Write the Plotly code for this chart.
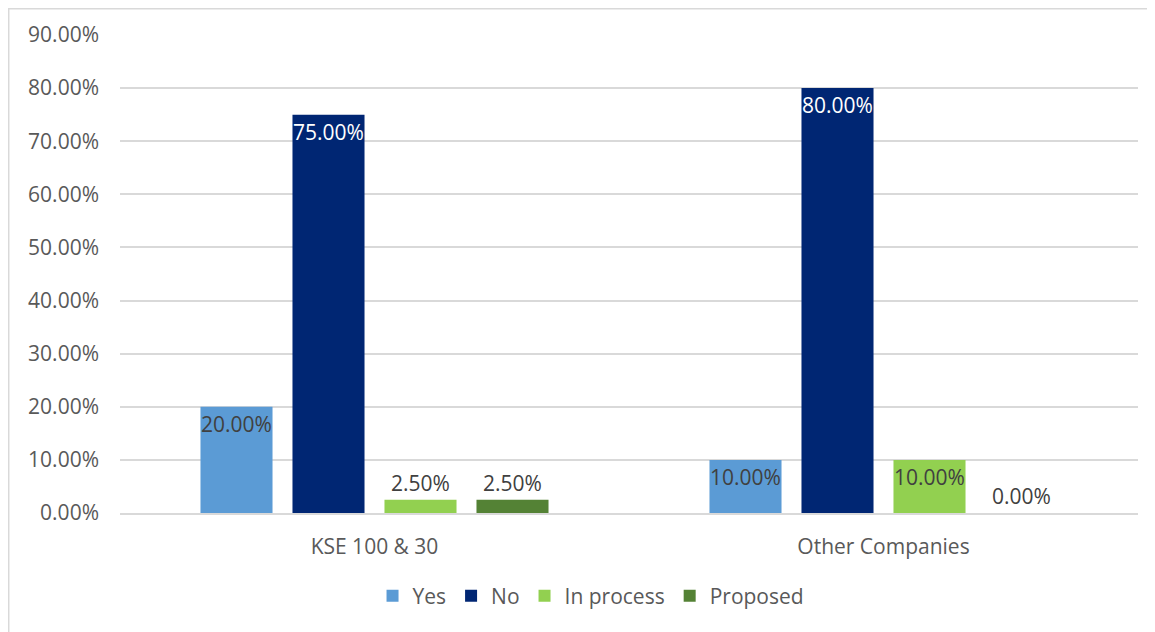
import plotly.graph_objects as go

categories = ["KSE 100 & 30", "Other Companies"]
series_names = ["Yes", "No", "In process", "Proposed"]
yes_vals = [0.20, 0.10]
no_vals = [0.75, 0.80]
inprocess_vals = [0.025, 0.10]
proposed_vals = [0.025, 0.0]
y_ticks = [0, 0.1, 0.2, 0.3, 0.4, 0.5, 0.6, 0.7, 0.8, 0.9]

colors = ["#5B9BD5", "#002673", "#92D050", "#548235"]
inside_font_colors = ["#404040", "#FFFFFF", "#404040", "#FFFFFF"]
all_vals = [yes_vals, no_vals, inprocess_vals, proposed_vals]

FONT = "Open Sans"
FS = 21
fig = go.Figure()
for name, vals, col, ifc in zip(series_names, all_vals, colors, inside_font_colors):
    fig.add_trace(go.Bar(
        name=name, x=categories, y=vals, marker_color=col,
        marker_line_width=0,
        text=[f"{v*100:.2f}%" for v in vals],
        textposition=["inside" if v >= 0.05 else "outside" for v in vals],
        insidetextanchor="end",
        textangle=0,
        constraintext="none",
        insidetextfont=dict(color=ifc, size=FS, family=FONT),
        outsidetextfont=dict(color="#404040", size=FS, family=FONT),
        cliponaxis=False,
        hoverinfo="skip",
    ))

fig.update_layout(
    width=1147, height=624,
    margin=dict(l=112, r=17, t=27, b=119),
    paper_bgcolor="white", plot_bgcolor="white",
    barmode="group", bargap=0.277, bargroupgap=0.217,
    font=dict(family=FONT, size=FS, color="#595959"),
    legend=dict(orientation="h", x=0.4627, xanchor="center", y=-0.174, yanchor="middle",
                font=dict(size=FS, color="#595959"), itemwidth=30, traceorder="normal"),
    xaxis=dict(showgrid=False, showline=True, linecolor="#d9d9d9", linewidth=1.5,
               ticks="", ticklabelstandoff=14, tickfont=dict(size=FS, color="#595959")),
    yaxis=dict(range=[0, 0.9], tickvals=y_ticks, tickformat=".2%", showgrid=True,
               gridcolor="#d9d9d9", gridwidth=1.5, zeroline=False, showline=False,
               ticks="", ticklabelstandoff=20, tickfont=dict(size=FS, color="#595959")),
    shapes=[dict(type="rect", xref="paper", yref="paper",
                 x0=-0.1093, x1=1.05, y0=-0.3, y1=1.0549,
                 line=dict(color="#d9d9d9", width=1.5), fillcolor="rgba(0,0,0,0)", layer="below")],
)

fig.write_html("out.html")
